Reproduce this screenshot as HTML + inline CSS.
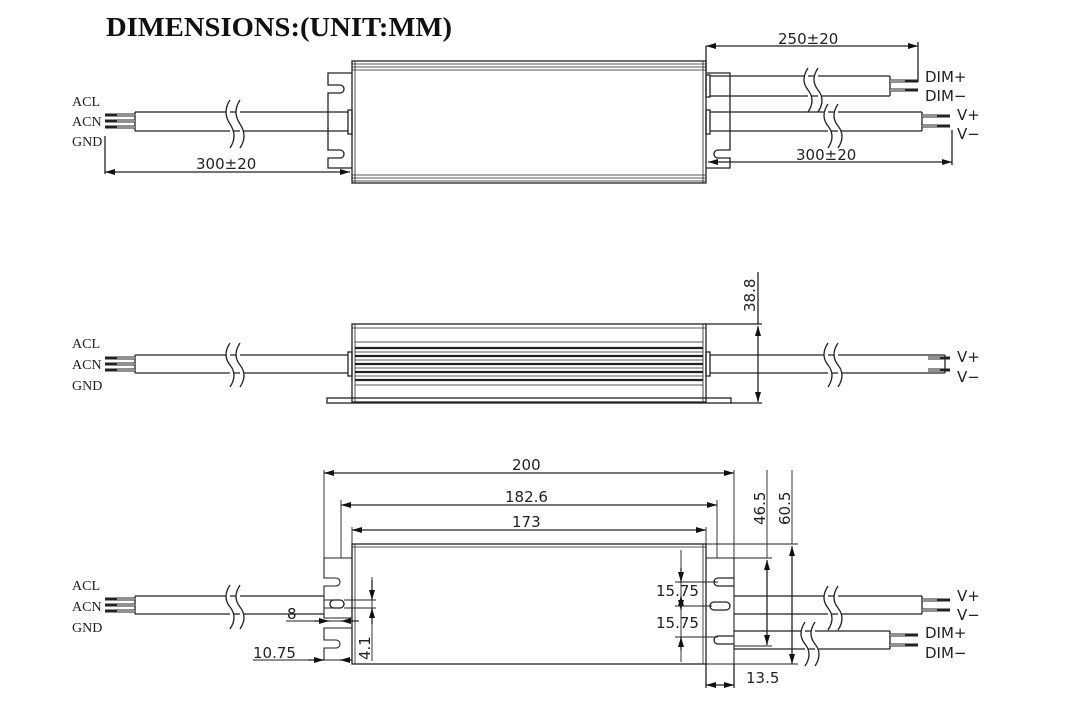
<!DOCTYPE html>
<html><head><meta charset="utf-8"><style>
body{margin:0;background:#fff}
svg{display:block}
.t{font-family:"DejaVu Sans","Liberation Sans",sans-serif;font-size:15px;fill:#222}
.s{font-family:"Liberation Serif",serif;font-size:14px;fill:#222}
</style></head><body>
<svg width="1080" height="704" viewBox="0 0 1080 704" xmlns="http://www.w3.org/2000/svg" fill="none" stroke="#222" stroke-width="1.3">
<defs>
<marker id="a" viewBox="0 0 10 6" refX="10" refY="3" markerWidth="14" markerHeight="6" orient="auto-start-reverse" markerUnits="userSpaceOnUse"><path d="M0 0L10 3L0 6z" fill="#111" stroke="none"/></marker>
</defs>
<text x="106" y="36" style="font-family:'Liberation Serif',serif;font-size:27px;font-weight:bold;fill:#111;stroke:none" textLength="346" lengthAdjust="spacingAndGlyphs">DIMENSIONS:(UNIT:MM)</text>

<!-- ===== TOP VIEW ===== -->
<rect x="352" y="61" width="354" height="122"/>
<path d="M352 64H706M352 67H706M352 70H706M352 175H706M352 178H706M352 181H706" stroke-width="0.8"/>
<path d="M355 61V183M703 61V183" stroke-width="0.8"/>
<path d="M352 73H328V85H340a4 4 0 0 1 0 8H328V150H340a4 4 0 0 1 0 8H328V168H352"/>
<rect x="348" y="110" width="4" height="24"/>
<path d="M135 112H348M135 131H348M135 112V131"/>
<path d="M105 115H135M105 121H135M105 127H135" stroke-width="3"/>
<path d="M117 115H135M117 121H135M117 127H135" stroke="#fff" stroke-width="1"/>
<path d="M230 100q-8 12 0 24t0 24M240 100q-8 12 0 24t0 24" fill="#fff"/>
<text class="s" x="72" y="106" stroke="none">ACL</text>
<text class="s" x="72" y="126" stroke="none">ACN</text>
<text class="s" x="72" y="146" stroke="none">GND</text>
<path d="M105 136V174"/>
<path d="M105 172H350" marker-start="url(#a)" marker-end="url(#a)"/>
<text class="t" x="196" y="169" stroke="none">300±20</text>
<path d="M706 73H730V150H718a4 4 0 0 0 0 8H730V168H706"/>
<rect x="706" y="75" width="4" height="22"/><rect x="706" y="110" width="4" height="24"/>
<path d="M710 76H890M710 96H890M890 76V96"/>
<path d="M890 81H918M890 90H918" stroke-width="3"/><path d="M890 81H905M890 90H905" stroke="#fff" stroke-width="1"/>
<path d="M808 68q-8 12 0 22t0 22M818 68q-8 12 0 22t0 22" fill="#fff"/>
<path d="M710 112H922M710 131H922M922 112V131"/>
<path d="M922 116H950M922 126H950" stroke-width="3"/><path d="M922 116H937M922 126H937" stroke="#fff" stroke-width="1"/>
<path d="M828 104q-8 12 0 22t0 22M838 104q-8 12 0 22t0 22" fill="#fff"/>
<text class="t" x="925" y="82" stroke="none">DIM+</text>
<text class="t" x="925" y="101" stroke="none">DIM−</text>
<text class="t" x="957" y="120" stroke="none">V+</text>
<text class="t" x="957" y="139" stroke="none">V−</text>
<path d="M706 46V72M918 42V82"/>
<path d="M706 46H918" marker-start="url(#a)" marker-end="url(#a)"/>
<text class="t" x="778" y="44" stroke="none">250±20</text>
<path d="M952 130V165"/>
<path d="M708 162H952" marker-start="url(#a)" marker-end="url(#a)"/>
<text class="t" x="796" y="160" stroke="none">300±20</text>

<!-- ===== SIDE VIEW ===== -->
<rect x="352" y="324" width="354" height="78"/>
<path d="M352 328H706M355 324V402M703 324V402" stroke-width="0.8"/>
<path d="M355 342H703" stroke-width="0.8"/>
<path d="M355 348H703M355 356H703M355 364H703M355 372H703M355 380H703" stroke-width="2.2"/>
<path d="M355 352H703M355 360H703M355 368H703M355 376H703M355 385H703" stroke-width="0.8"/>
<rect x="327" y="398" width="404" height="5"/>
<rect x="348" y="352" width="4" height="24"/><rect x="706" y="352" width="4" height="24"/>
<path d="M135 355H348M135 373H348M135 355V373"/>
<path d="M105 358H135M105 364H135M105 370H135" stroke-width="3"/>
<path d="M117 358H135M117 364H135M117 370H135" stroke="#fff" stroke-width="1"/>
<path d="M230 343q-8 12 0 22t0 22M240 343q-8 12 0 22t0 22" fill="#fff"/>
<text class="s" x="72" y="348" stroke="none">ACL</text>
<text class="s" x="72" y="369" stroke="none">ACN</text>
<text class="s" x="72" y="390" stroke="none">GND</text>
<path d="M710 355H945M710 373H945M945 355V373"/>
<path d="M928 358H950M928 370H950" stroke-width="3"/><path d="M928 358H940M928 370H940" stroke="#fff" stroke-width="1"/>
<path d="M828 343q-8 12 0 22t0 22M838 343q-8 12 0 22t0 22" fill="#fff"/>
<text class="t" x="957" y="362" stroke="none">V+</text>
<text class="t" x="957" y="382" stroke="none">V−</text>
<path d="M706 324H762M731 403H762M758 272V324"/>
<path d="M758 326V402" marker-start="url(#a)" marker-end="url(#a)"/>
<text class="t" transform="translate(755 312) rotate(-90)" stroke="none">38.8</text>

<!-- ===== BOTTOM VIEW ===== -->
<rect x="352" y="544" width="354" height="120"/>
<path d="M352 547H706M355 544V664M703 544V664" stroke-width="0.8"/>
<path d="M352 558H324V578H336a4 4 0 0 1 0 8H324V618H352M324 600H336a4 4 0 0 1 0 8H324M352 628H324V640H336a4 4 0 0 1 0 8H324V660H352" stroke-width="1.1"/>
<rect x="330" y="600" width="14" height="8" rx="4" fill="#fff"/>
<path d="M706 558H734V664H706" stroke-width="1.1"/>
<path d="M734 578H718a4 4 0 0 0 0 8H734M734 636H718a4 4 0 0 0 0 8H734"/>
<rect x="710" y="602" width="20" height="8" rx="4" fill="#fff"/>
<path d="M135 596H324M135 614H324M135 596V614"/>
<path d="M105 599H135M105 605H135M105 611H135" stroke-width="3"/>
<path d="M117 599H135M117 605H135M117 611H135" stroke="#fff" stroke-width="1"/>
<path d="M230 585q-8 12 0 22t0 22M240 585q-8 12 0 22t0 22" fill="#fff"/>
<text class="s" x="72" y="590" stroke="none">ACL</text>
<text class="s" x="72" y="611" stroke="none">ACN</text>
<text class="s" x="72" y="632" stroke="none">GND</text>
<path d="M734 596H922M734 614H922M922 596V614"/>
<path d="M922 600H950M922 610H950" stroke-width="3"/><path d="M922 600H937M922 610H937" stroke="#fff" stroke-width="1"/>
<path d="M828 586q-8 12 0 22t0 22M838 586q-8 12 0 22t0 22" fill="#fff"/>
<path d="M734 631H890M734 649H890M890 631V649"/>
<path d="M890 635H918M890 645H918" stroke-width="3"/><path d="M890 635H905M890 645H905" stroke="#fff" stroke-width="1"/>
<path d="M805 622q-8 12 0 22t0 22M815 622q-8 12 0 22t0 22" fill="#fff"/>
<text class="t" x="957" y="601" stroke="none">V+</text>
<text class="t" x="957" y="620" stroke="none">V−</text>
<text class="t" x="925" y="638" stroke="none">DIM+</text>
<text class="t" x="925" y="658" stroke="none">DIM−</text>
<path d="M324 470V558M734 470V558M341 500V558M717 500V558M352 527V544M706 527V544" stroke-width="0.9"/>
<path d="M324 473H734" marker-start="url(#a)" marker-end="url(#a)"/>
<text class="t" x="512" y="470" stroke="none">200</text>
<path d="M341 505H717" marker-start="url(#a)" marker-end="url(#a)"/>
<text class="t" x="505" y="502" stroke="none">182.6</text>
<path d="M352 530H706" marker-start="url(#a)" marker-end="url(#a)"/>
<text class="t" x="512" y="527" stroke="none">173</text>
<path d="M706 544H798M734 558H772M734 646H772M734 664H798M767 470V558M792 470V544" stroke-width="0.9"/>
<path d="M767 560V645" marker-start="url(#a)" marker-end="url(#a)"/>
<path d="M792 546V664" marker-start="url(#a)" marker-end="url(#a)"/>
<text class="t" transform="translate(765 525) rotate(-90)" stroke="none">46.5</text>
<text class="t" transform="translate(790 525) rotate(-90)" stroke="none">60.5</text>
<path d="M681 550V662M681 573V582M681 612V624" stroke-width="0.9"/>
<path d="M681 568V582" marker-end="url(#a)"/>
<path d="M681 596V610" marker-start="url(#a)" marker-end="url(#a)"/>
<path d="M681 637V650" marker-start="url(#a)"/>
<path d="M675 582H718M675 606H712M675 637H718" stroke-width="0.9"/>
<text class="t" x="656" y="596" stroke="none">15.75</text>
<text class="t" x="656" y="628" stroke="none">15.75</text>
<path d="M706 664V688M734 664V688"/>
<path d="M706 685H734" marker-start="url(#a)" marker-end="url(#a)"/>
<text class="t" x="746" y="683" stroke="none">13.5</text>
<path d="M286 621H359" stroke-width="0.9"/>
<path d="M314 621H329" marker-end="url(#a)"/>
<path d="M341 621H358" marker-start="url(#a)"/>
<text class="t" x="287" y="619" stroke="none">8</text>
<path d="M253 660H352" stroke-width="0.9"/>
<path d="M308 660H324" marker-end="url(#a)"/>
<path d="M340 660H352" marker-start="url(#a)"/>
<text class="t" x="253" y="658" stroke="none">10.75</text>
<path d="M372 577V661M344 600H376M344 608H376" stroke-width="0.9"/>
<path d="M372 580V600" marker-end="url(#a)"/>
<path d="M372 624V608" marker-end="url(#a)"/>
<text class="t" transform="translate(370 660) rotate(-90)" stroke="none">4.1</text>
</svg>
</body></html>
